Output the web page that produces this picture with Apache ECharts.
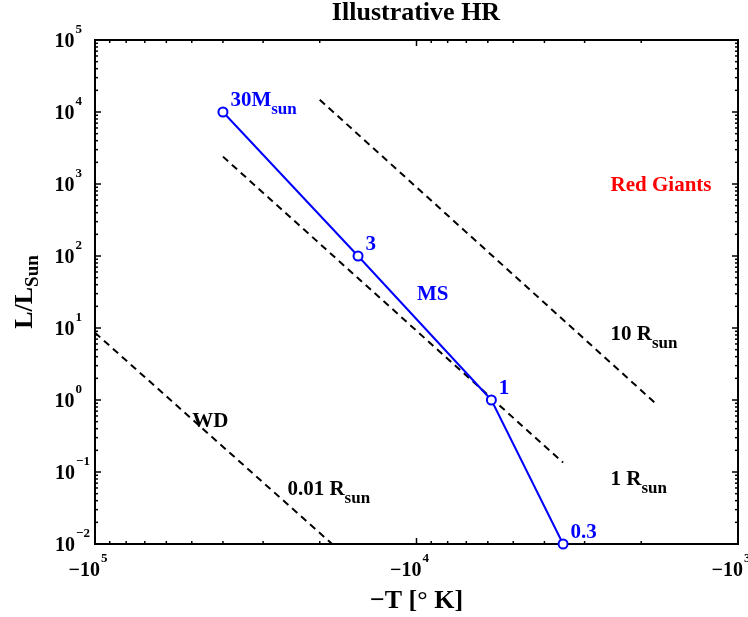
<!DOCTYPE html>
<html>
<head>
<meta charset="utf-8">
<title>Illustrative HR</title>
<script src="https://cdn.jsdelivr.net/npm/echarts@6.0.0/dist/echarts.min.js"></script>
<style>
  html, body { margin: 0; padding: 0; background: #fff; }
  #chart { width: 748px; height: 617px; }
</style>
</head>
<body>
<div id="chart"></div>
<script>
// main sequence points: temperature [K], luminosity [L_sun]
const msTemp = [40000, 15200, 5850, 3500];
const msLum = [1e4, 100, 1, 0.01];
const msNames = ['30M{s|sun}', '3', '1', '0.3'];

// lines of constant radius (two ends each)
const r10Temp = [20000, 1780];
const r10Lum = [14800, 0.85];
const r1Temp = [40000, 3500];
const r1Lum = [2400, 0.135];
const r001Temp = [100000, 18300];
const r001Lum = [8.6, 0.01];

// text notes
const noteTemp = [10000, 2500, 2500, 2500, 50000, 25300];
const noteLum = [29, 950, 8, 0.078, 0.5, 0.057];
const noteText = ['MS', 'Red Giants', '10 R{s|sun}', '1 R{s|sun}', 'WD', '0.01 R{s|sun}'];
const noteColors = ['#0000ff', '#ff0000', '#000', '#000', '#000', '#000'];

// axis ticks
const xMajor = [1e3, 1e4, 1e5];
const yMajor = [1e-2, 1e-1, 1, 10, 100, 1e3, 1e4, 1e5];
const mantissa = [2, 3, 4, 5, 6, 7, 8, 9];

const FONT = '"Liberation Serif", "Times New Roman", serif';
const tMin = 1e3, tMax = 1e5, lMin = 1e-2, lMax = 1e5;

const zip = (a, b) => a.map((v, i) => [v, b[i]]);

// tick data: [x, y, kind]  kind 0 x-major, 1 x-minor, 2 y-major, 3 y-minor
const tickData = [];
xMajor.forEach(t => tickData.push([t, 1, 0]));
xMajor.slice(0, -1).forEach(d => mantissa.forEach(m => tickData.push([d * m, 1, 1])));
yMajor.forEach(l => tickData.push([1e4, l, 2]));
yMajor.slice(0, -1).forEach(d => mantissa.forEach(m => tickData.push([1e4, d * m, 3])));

const expOf = v => Math.round(Math.log10(v));

const bold = { fontFamily: FONT, fontWeight: 'bold', color: '#000' };
const tickRich = {
  b: Object.assign({ fontSize: 20, lineHeight: 20 }, bold),
  e: Object.assign({ fontSize: 13, lineHeight: 13, padding: [0, 0, 24, 1] }, bold),
  // single digit exponent on the y axis, padded so the "10" lines up
  ey: Object.assign({ fontSize: 13, lineHeight: 13, padding: [0, 8, 24, 1] }, bold)
};

const subStyle = color => ({
  fontSize: 17, lineHeight: 17, fontFamily: FONT, fontWeight: 'bold', color: color, padding: [18, 0, 0, 0]
});

const chart = echarts.init(document.getElementById('chart'));

const option = {
  animation: false,
  backgroundColor: '#fff',
  title: {
    text: 'Illustrative HR',
    left: 416,
    textAlign: 'center',
    top: 0,
    padding: 0,
    textStyle: { fontFamily: FONT, fontWeight: 'bold', fontSize: 26, color: '#000' }
  },
  grid: {
    left: 95, right: 10, top: 40, bottom: 73,
    show: true, borderColor: '#000', borderWidth: 2,
    outerBoundsMode: 'none'
  },
  xAxis: {
    type: 'log',
    logBase: 10,
    min: tMin,
    max: tMax,
    inverse: true,
    splitNumber: 2,
    axisLine: { show: false },
    axisTick: { show: false },
    splitLine: { show: false },
    axisLabel: {
      showMinLabel: true,
      showMaxLabel: true,
      margin: 17,
      padding: [0, 14, 0, 0],
      formatter: v => {
        const e = expOf(v);
        return '{b|\u221210}{e|' + (e < 0 ? '\u2212' + (-e) : e) + '}';
      },
      rich: tickRich
    },
    name: '\u2212T [\u00b0 K]',
    nameLocation: 'middle',
    nameGap: 44,
    nameMoveOverlap: false,
    nameTextStyle: { fontFamily: FONT, fontWeight: 'bold', fontSize: 26, color: '#000' }
  },
  yAxis: {
    type: 'log',
    logBase: 10,
    min: lMin,
    max: lMax,
    splitNumber: 7,
    axisLine: { show: false },
    axisTick: { show: false },
    splitLine: { show: false },
    axisLabel: {
      showMinLabel: true,
      showMaxLabel: true,
      margin: 5,
      padding: [4, 0, 0, 0],
      formatter: v => {
        const e = expOf(v);
        return e < 0 ? '{b|10}{e|\u2212' + (-e) + '}' : '{b|10}{ey|' + e + '}';
      },
      rich: tickRich
    },
    name: 'L/L{s|Sun}',
    nameLocation: 'middle',
    nameGap: 57,
    nameMoveOverlap: false,
    nameTextStyle: {
      fontFamily: FONT, fontWeight: 'bold', fontSize: 26, color: '#000',
      rich: { s: { fontSize: 19, lineHeight: 19, fontFamily: FONT, fontWeight: 'bold', color: '#000', padding: [16, 0, 0, 0] } }
    }
  },
  series: [
    {
      type: 'custom',
      silent: true,
      data: tickData,
      renderItem: (params, api) => {
        const kind = api.value(2);
        const len = kind === 0 || kind === 2 ? 6 : 3;
        let segs;
        if (kind < 2) {
          const top = api.coord([api.value(0), lMax]);
          const bot = api.coord([api.value(0), lMin]);
          segs = [[top[0], top[1], top[0], top[1] + len], [bot[0], bot[1], bot[0], bot[1] - len]];
        } else {
          const left = api.coord([tMax, api.value(1)]);
          const right = api.coord([tMin, api.value(1)]);
          segs = [[left[0], left[1], left[0] + len, left[1]], [right[0], right[1], right[0] - len, right[1]]];
        }
        return {
          type: 'group',
          children: segs.map(s => ({
            type: 'line',
            shape: { x1: s[0], y1: s[1], x2: s[2], y2: s[3] },
            style: { stroke: '#000', lineWidth: 1.5 }
          }))
        };
      }
    },
    ...[[r10Temp, r10Lum], [r1Temp, r1Lum], [r001Temp, r001Lum]].map(([t, l]) => ({
      type: 'line',
      data: zip(t, l),
      symbol: 'none',
      silent: true,
      lineStyle: { color: '#000', width: 2, type: [7, 5] }
    })),
    {
      type: 'line',
      data: zip(msTemp, msLum),
      symbol: 'circle',
      symbolSize: 9,
      silent: true,
      lineStyle: { color: '#0000ff', width: 2 },
      itemStyle: { color: '#fff', borderColor: '#0000ff', borderWidth: 2 },
      label: {
        show: true,
        position: 'right',
        distance: 2,
        offset: [0, -11],
        color: '#0000ff',
        fontFamily: FONT,
        fontWeight: 'bold',
        fontSize: 21,
        formatter: p => msNames[p.dataIndex],
        rich: { s: subStyle('#0000ff') }
      }
    },
    {
      type: 'scatter',
      silent: true,
      symbolSize: 1,
      itemStyle: { color: 'transparent', opacity: 1 },
      data: noteTemp.map((t, i) => ({
        value: [t, noteLum[i]],
        label: { color: noteColors[i], rich: { s: subStyle(noteColors[i]) } }
      })),
      label: {
        show: true,
        opacity: 1,
        position: 'right',
        distance: 0,
        fontFamily: FONT,
        fontWeight: 'bold',
        fontSize: 21,
        formatter: p => noteText[p.dataIndex]
      }
    }
  ]
};

chart.setOption(option);
</script>
</body>
</html>
